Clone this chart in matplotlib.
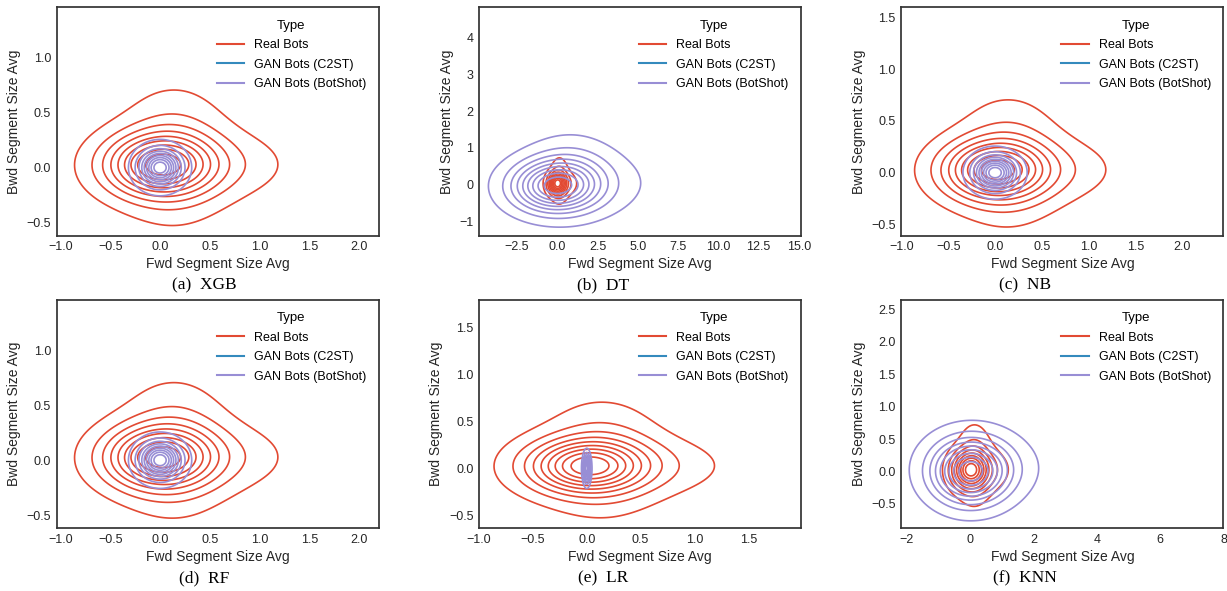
import numpy as np
import matplotlib
matplotlib.use('Agg')
import matplotlib.pyplot as plt
from matplotlib.lines import Line2D
from matplotlib.ticker import MultipleLocator

# each distribution is a gaussian mixture matched to the contour rings in the picture
# (weight, mean x, mean y, sd x, sd y)
real_bots = [(0.617, -0.020, 0.022, 0.335, 0.176),
             (0.260, 0.140, 0.105, 0.317, 0.332),
             (0.123, 0.488, 0.028, 0.452, 0.181)]
botshot_xgb = [(1.0, 0.0, 0.0, 0.13, 0.105)]
botshot_dt = [(0.665, -0.164, -0.060, 1.641, 0.429),
              (0.192, 0.840, 0.300, 1.617, 0.585),
              (0.143, 1.650, 0.025, 2.431, 0.527)]
botshot_nb = [(1.0, 0.0, 0.0, 0.14, 0.105)]
botshot_rf = [(1.0, 0.0, 0.0, 0.13, 0.105)]
botshot_lr = [(1.0, 0.0, 0.0, 0.02, 0.088)]
botshot_knn = [(0.684, -0.013, -0.010, 0.724, 0.300),
               (0.253, 0.163, 0.070, 1.000, 0.360),
               (0.063, 0.525, 0.060, 1.000, 0.271)]

models = ['XGB', 'DT', 'NB', 'RF', 'LR', 'KNN']
letters = ['a', 'b', 'c', 'd', 'e', 'f']
botshot = [botshot_xgb, botshot_dt, botshot_nb, botshot_rf, botshot_lr, botshot_knn]
xlims = [(-1.04, 2.20), (-4.85, 15.14), (-1.00, 2.437), (-1.04, 2.20), (-1.0, 1.99), (-2.17, 8.0)]
ylims = [(-0.62, 1.46), (-1.40, 4.83), (-0.61, 1.60), (-0.62, 1.46), (-0.64, 1.80), (-0.876, 2.65)]
xsteps = [0.5, 2.5, 0.5, 0.5, 0.5, 2]
ysteps = [0.5, 1, 0.5, 0.5, 0.5, 0.5]

labels = ['Real Bots', 'GAN Bots (C2ST)', 'GAN Bots (BotShot)']
colors = ['#E24A33', '#348ABD', '#988ED5']

plt.rcParams['font.family'] = ['Liberation Sans', 'DejaVu Sans']


def mixture(X, Y, comps):
    Z = np.zeros_like(X)
    for w, mx, my, sx, sy in comps:
        Z += w / (sx * sy) * np.exp(-0.5 * (((X - mx) / sx) ** 2 + ((Y - my) / sy) ** 2))
    return Z


def iso_levels(Z):
    # like seaborn kdeplot levels=10, thresh=0.05
    props = np.linspace(0.05, 1, 10)[:-1]
    vals = np.sort(Z.ravel())[::-1]
    cum = np.cumsum(vals) / vals.sum()
    idx = np.searchsorted(cum, 1 - props)
    return np.unique(vals[idx])


fig = plt.figure(figsize=(12.27, 5.91), dpi=100)
lefts = [0.0462, 0.3904, 0.7346]
bottoms = [0.6012, 0.1061]
capx = [204 / 1227., 603 / 1227., 1025 / 1227.]
capy = [1 - 285 / 591., 1 - 578 / 591.]

for i in range(6):
    r, c = i // 3, i % 3
    ax = fig.add_axes([lefts[c], bottoms[r], 0.2625, 0.3865])
    x = np.linspace(xlims[i][0], xlims[i][1], 700)
    y = np.linspace(ylims[i][0], ylims[i][1], 700)
    X, Y = np.meshgrid(x, y)

    Zr = mixture(X, Y, real_bots)
    ax.contour(X, Y, Zr, levels=iso_levels(Zr), colors=colors[0], linewidths=1.2)
    Zb = mixture(X, Y, botshot[i])
    ax.contour(X, Y, Zb, levels=iso_levels(Zb), colors=colors[2], linewidths=1.2)

    ax.set_xlim(xlims[i])
    ax.set_ylim(ylims[i])
    ax.xaxis.set_major_locator(MultipleLocator(xsteps[i]))
    ax.yaxis.set_major_locator(MultipleLocator(ysteps[i]))
    ax.tick_params(length=0, labelsize=9, labelcolor='#262626', pad=4)
    for s in ax.spines.values():
        s.set_color('#333333')
        s.set_linewidth(1.25)
    ax.set_xlabel('Fwd Segment Size Avg', fontsize=10, color='#262626', labelpad=3)
    ax.set_ylabel('Bwd Segment Size Avg', fontsize=10, color='#262626', labelpad=4)

    handles = [Line2D([], [], color=col, lw=1.5) for col in colors]
    ax.legend(handles, labels, title='Type', loc='upper right', frameon=False,
              fontsize=9, title_fontsize=9.5, handlelength=2.2, labelspacing=0.6,
              borderaxespad=0.6)

    fig.text(capx[c], capy[r], '(%s)  %s' % (letters[i], models[i]), ha='center', va='center',
             family='Liberation Serif', fontsize=12.5)

plt.savefig('out.png', dpi=100)
